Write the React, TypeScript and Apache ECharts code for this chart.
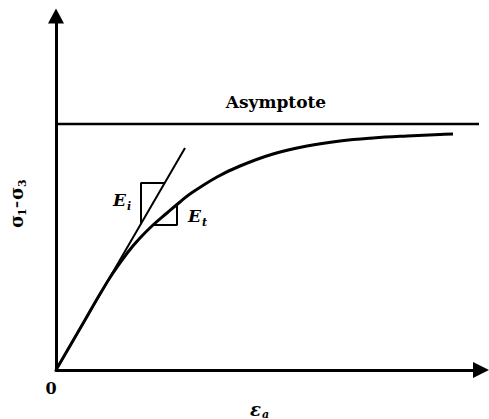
import React, { useEffect, useRef } from "react";
import * as echarts from "echarts";

// Axial strain (arbitrary units) and deviator stress along the hyperbolic curve
const strain = [0, 29, 44, 57, 72, 84, 97, 111, 124, 134, 161, 184, 217, 251, 284, 317, 351, 384, 397];
const deviatorStress = [0, 50, 76, 97, 118, 132, 145, 157, 168, 176, 193, 204, 216, 224, 229, 232, 234, 235.5, 236];

// Initial tangent modulus line (Ei)
const initialTangentStrain = [0, 129];
const initialTangentStress = [0, 222];

// Asymptote (ultimate deviator stress)
const asymptoteStrain = [0, 423];
const asymptoteStress = [246, 246];

// Slope triangle for Ei
const eiBoxStrain = [85, 85, 108];
const eiBoxStress = [147, 187, 187];

// Slope triangle for Et
const etBoxStrain = [97, 121, 121];
const etBoxStress = [145, 145, 166];

const xMax = 425;
const yMax = 354;

const zip = (xs: number[], ys: number[]) => xs.map((x, i) => [x, ys[i]]);

const SERIF = "DejaVu Serif";

export default function App() {
  const ref = useRef<HTMLDivElement>(null);
  useEffect(() => {
    if (!ref.current) return;
    const chart = echarts.init(ref.current, undefined, { renderer: "svg" });
    const lineBase = { type: "line", symbol: "none", silent: true, z: 3 };
    const txt = (
      text: string,
      x: number,
      y: number,
      size: number,
      italic = false,
      align = "left"
    ) => ({
      type: "text",
      x,
      y,
      style: {
        text,
        fill: "#000",
        font: `${italic ? "italic " : ""}bold ${size}px "${SERIF}"`,
        align,
        verticalAlign: "middle",
      },
    });
    chart.setOption({
      animation: false,
      backgroundColor: "#fff",
      grid: { left: 56, right: 8, top: 16, bottom: 49, containLabel: false, outerBoundsMode: "none" },
      xAxis: {
        type: "value",
        min: 0,
        max: xMax,
        axisLine: {
          show: true,
          onZero: false,
          symbol: ["none", "triangle"],
          symbolSize: [16, 16],
          lineStyle: { color: "#000", width: 3 },
        },
        axisTick: { show: false },
        axisLabel: { show: false },
        splitLine: { show: false },
      },
      yAxis: {
        type: "value",
        min: 0,
        max: yMax,
        axisLine: {
          show: true,
          onZero: false,
          symbol: ["none", "triangle"],
          symbolSize: [16, 15],
          lineStyle: { color: "#000", width: 3 },
        },
        axisTick: { show: false },
        axisLabel: { show: false },
        splitLine: { show: false },
      },
      series: [
        {
          ...lineBase,
          name: "curve",
          smooth: 0.4,
          data: zip(strain, deviatorStress),
          lineStyle: { color: "#000", width: 3 },
        },
        {
          ...lineBase,
          name: "Ei",
          data: zip(initialTangentStrain, initialTangentStress),
          lineStyle: { color: "#000", width: 2 },
        },
        {
          ...lineBase,
          name: "asymptote",
          data: zip(asymptoteStrain, asymptoteStress),
          lineStyle: { color: "#000", width: 2.5 },
        },
        {
          ...lineBase,
          name: "EiBox",
          data: zip(eiBoxStrain, eiBoxStress),
          lineStyle: { color: "#000", width: 2 },
        },
        {
          ...lineBase,
          name: "EtBox",
          data: zip(etBoxStrain, etBoxStress),
          lineStyle: { color: "#000", width: 2 },
        },
      ],
      graphic: [
        txt("Asymptote", 276, 102, 17, false, "center"),
        txt("0", 51, 388, 16, false, "center"),
        txt("E", 113, 200, 17, true),
        txt("i", 127, 206, 11, true),
        txt("E", 188, 216, 17, true),
        txt("t", 202, 222, 11, true),
        txt("ε", 250, 409, 18, true),
        txt("a", 262, 414, 11, true),
        {
          type: "group",
          x: 17,
          y: 202,
          rotation: Math.PI / 2,
          children: [
            txt("σ", -26, -1, 18),
            txt("1", -14, 5, 11),
            txt("–", -6, -1, 14),
            txt("σ", 2, -1, 18),
            txt("3", 15, 5, 11),
          ],
        },
      ],
    });
    return () => chart.dispose();
  }, []);
  return (
    <div
      ref={ref}
      style={{ position: "fixed", left: 0, top: 0, width: 489, height: 419, background: "#fff" }}
    />
  );
}
